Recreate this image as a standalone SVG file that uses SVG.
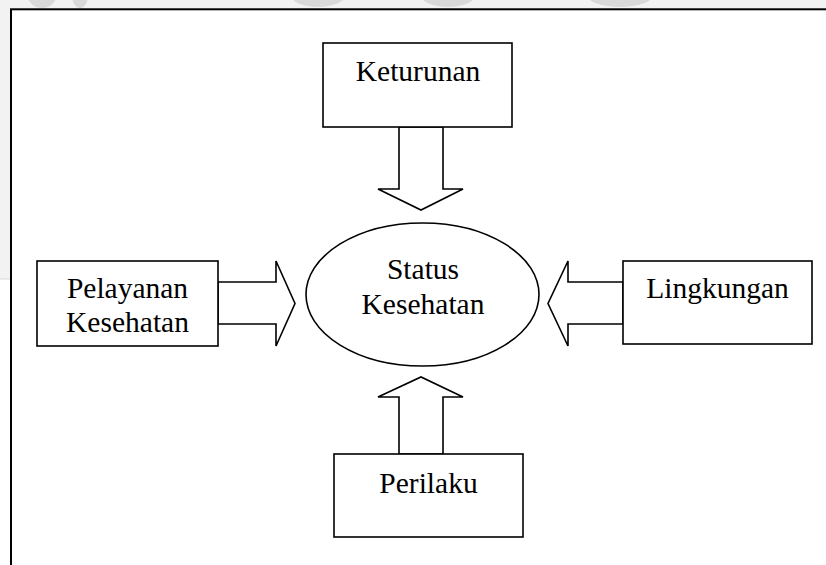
<svg xmlns="http://www.w3.org/2000/svg" width="826" height="565" viewBox="0 0 826 565">
  <defs>
    <style>
      .box { fill: #ffffff; stroke: #000000; stroke-width: 1.6; }
      .arrow { fill: #ffffff; stroke: #000000; stroke-width: 1.6; stroke-linejoin: miter; }
      .lbl { font-family: "Liberation Serif", "Times New Roman", serif; font-size: 29.5px; fill: #000000; text-anchor: middle; }
      .wm { fill: #d9d9d9; }
    </style>
    <clipPath id="topstrip"><rect x="0" y="0" width="826" height="8"/></clipPath>
  </defs>
  <rect x="0" y="0" width="826" height="565" fill="#ffffff"/>
  <rect x="0" y="0" width="826" height="9" fill="#f2f2f2"/>
  <rect x="0" y="0" width="11" height="279" fill="#f2f2f2"/>
  <line x1="0" y1="279" x2="11" y2="279" stroke="#d9d9d9" stroke-width="1"/>
  <g clip-path="url(#topstrip)">
    <ellipse class="wm" cx="42" cy="-4" rx="14" ry="12"/>
    <ellipse class="wm" cx="80" cy="-4" rx="8" ry="12"/>
    <ellipse class="wm" cx="318" cy="-6" rx="28" ry="13"/>
    <ellipse class="wm" cx="448" cy="-6" rx="28" ry="13"/>
    <ellipse class="wm" cx="620" cy="-6" rx="34" ry="13"/>
  </g>
  <rect x="11" y="9.3" width="830" height="570" fill="none" stroke="#000000" stroke-width="2"/>

  <g id="connectors">
    <polygon class="arrow" points="399,127 443,127 443,189 463,189 421,210 378,189 399,189"/>
    <polygon class="arrow" points="399,454 443,454 443,397 463,397 421,377 378,397 399,397"/>
    <polygon class="arrow" points="218,282 276,282 276,261 295,303.5 276,346 276,324 218,324"/>
    <polygon class="arrow" points="623,282 568,282 568,261 548,303.5 568,346 568,324 623,324"/>
  </g>

  <g id="keturunan">
    <rect class="box" x="323" y="43" width="189" height="84"/>
    <text class="lbl" x="418" y="81">Keturunan</text>
  </g>
  <g id="status-kesehatan">
    <ellipse class="box" cx="422.5" cy="294.5" rx="116.5" ry="71.5"/>
    <text class="lbl" x="423" y="279">Status</text>
    <text class="lbl" x="423" y="314">Kesehatan</text>
  </g>
  <g id="pelayanan-kesehatan">
    <rect class="box" x="37" y="261" width="181" height="85"/>
    <text class="lbl" x="127.5" y="298">Pelayanan</text>
    <text class="lbl" x="127.5" y="332">Kesehatan</text>
  </g>
  <g id="lingkungan">
    <rect class="box" x="623" y="261" width="189" height="83"/>
    <text class="lbl" x="717.5" y="298">Lingkungan</text>
  </g>
  <g id="perilaku">
    <rect class="box" x="334" y="454" width="189" height="83"/>
    <text class="lbl" x="428.5" y="493">Perilaku</text>
  </g>
</svg>
